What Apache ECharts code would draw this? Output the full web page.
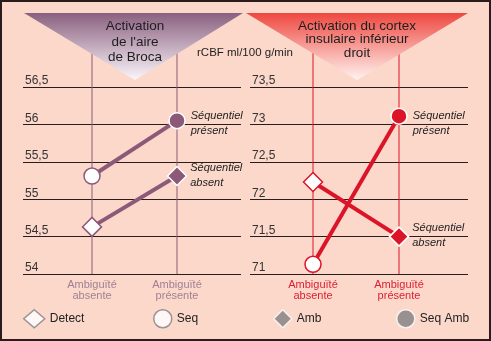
<!DOCTYPE html>
<html><head><meta charset="utf-8">
<script src="https://cdn.jsdelivr.net/npm/echarts@6/dist/echarts.min.js"></script>
<style>html,body{margin:0;padding:0;background:#fcd8cb}#c{width:491px;height:341px}</style>
</head><body><div id="c"></div>
<script>
// ---- data ----
const categories = ['Ambiguïté\nabsente', 'Ambiguïté\nprésente'];
const seriesNames = ['Séquentiel absent', 'Séquentiel présent'];
// Broca (left panel): [Ambiguïté absente, Ambiguïté présente]
const brocaAbsent = [54.63, 55.31];   // Detect -> Amb
const brocaPresent = [55.31, 56.05];  // Seq -> Seq Amb
// Insula (right panel)
const insulaAbsent = [72.23, 71.5];   // Detect -> Amb
const insulaPresent = [71.13, 73.11]; // Seq -> Seq Amb
const brocaRange = [54, 56.5];
const insulaRange = [71, 73.5];
const yStep = 0.5;
const legendNames = ['Detect', 'Seq', 'Amb', 'Seq Amb'];
const titles = ["Activation\nde l'aire\nde Broca", 'Activation du cortex\ninsulaire inférieur\ndroit'];
const unitText = 'rCBF ml/100 g/min';

// ---- style ----
const FONT = '"Liberation Sans", Arial, Helvetica, sans-serif';
const panelColor = ['#8c5a78', '#dc1428'];
const catLabelColor = ['#a08094', '#dc1e34'];
const gridBox = [{left: 23, width: 218}, {left: 250, width: 218}];
const catPx = [[92, 177], [313, 399]];
const GRID_TOP = 87, GRID_BOTTOM = 67;

function xRange(p) {
  const scale = catPx[p][1] - catPx[p][0];
  const min = -(catPx[p][0] - gridBox[p].left) / scale;
  return [min, min + gridBox[p].width / scale];
}

function makeSeries(p, idx, values) {
  const color = panelColor[p];
  const sym = idx === 0 ? 'diamond' : 'circle';
  const size = idx === 0 ? 19 : 16;
  const data = values.map((v, i) => {
    const filled = i === 1;
    const item = {
      value: [i, v], symbol: sym, symbolSize: size,
      itemStyle: filled ? {color: color, borderColor: '#fff', borderWidth: 1.5}
                        : {color: '#fff', borderColor: color, borderWidth: 1.5}
    };
    if (i === 1) {
      item.label = {
        show: true, position: 'right', distance: idx === 0 ? 3 : 5,
        offset: [0, (p === 1 && idx === 1) ? 7 : (idx === 1 ? 3 : -1)],
        formatter: seriesNames[idx].replace(' ', '\n'),
        fontStyle: 'italic', fontSize: 11, lineHeight: 15, color: '#222', fontFamily: FONT,
        align: 'left'
      };
    }
    return item;
  });
  return {
    type: 'line', name: seriesNames[idx], xAxisIndex: p, yAxisIndex: p,
    data: data, showAllSymbol: true, z: 3,
    lineStyle: {color: color, width: 4},
    itemStyle: {color: color},
    emphasis: {disabled: true}, animation: false, silent: true
  };
}

const ranges = [brocaRange, insulaRange];
const grids = gridBox.map(g => ({left: g.left, width: g.width, top: GRID_TOP, bottom: GRID_BOTTOM, containLabel: false}));
const xAxes = [0, 1].map(p => {
  const r = xRange(p);
  return {
    type: 'value', gridIndex: p, min: r[0], max: r[1],
    axisLine: {show: false}, axisTick: {show: false}, splitLine: {show: false},
    axisLabel: {
      customValues: [0, 1], formatter: v => categories[Math.round(v)] || '',
      color: catLabelColor[p], fontSize: 11, lineHeight: 11, margin: 5, fontFamily: FONT
    }
  };
});
const yAxes = [0, 1].map(p => ({
  type: 'value', gridIndex: p, min: ranges[p][0], max: ranges[p][1], interval: yStep,
  axisLine: {show: false}, axisTick: {show: false},
  splitLine: {show: true, lineStyle: {color: '#261e1e', width: 1}},
  axisLabel: {
    inside: true, margin: 2, verticalAlign: 'bottom',
    formatter: v => String(v).replace('.', ','), fontSize: 12, color: '#333', fontFamily: FONT
  }
}));

const legendStyles = [
  {icon: 'diamond', w: 21, itemStyle: {color: '#fff', borderColor: '#808080', borderWidth: 1.5}},
  {icon: 'circle', w: 18, itemStyle: {color: '#fff', borderColor: '#808080', borderWidth: 1.5}},
  {icon: 'diamond', w: 18, itemStyle: {color: '#808080', borderColor: '#fff', borderWidth: 1.5}},
  {icon: 'circle', w: 18, itemStyle: {color: '#808080', borderColor: '#fff', borderWidth: 1.5}}
];
const legendLeft = [23, 153, 273, 396];
const legends = legendNames.map((n, i) => ({
  show: true, left: legendLeft[i], top: 309, padding: 0, itemWidth: legendStyles[i].w, itemHeight: 18,
  itemGap: 0, selectedMode: false,
  textStyle: {fontSize: 12, color: '#222', fontFamily: FONT},
  data: [{name: n, icon: legendStyles[i].icon, itemStyle: legendStyles[i].itemStyle}]
}));
const dummySeries = legendNames.map(n => ({type: 'scatter', name: n, data: [], xAxisIndex: 0, yAxisIndex: 0}));

const chart = echarts.init(document.getElementById('c'), null, {renderer: 'canvas'});
const gradL = {type: 'linear', x: 0, y: 0, x2: 0, y2: 1, colorStops: [{offset: 0, color: '#8a6080'}, {offset: 1, color: '#fbf6fa'}]};
const gradR = {type: 'linear', x: 0, y: 0, x2: 0, y2: 1, colorStops: [{offset: 0, color: '#ee4840'}, {offset: 1, color: '#fff3f0'}]};

const baseGraphic = [
  {type: 'polygon', z: 10, shape: {points: [[24, 13], [243, 13], [135, 80]]}, style: {fill: gradL}},
  {type: 'polygon', z: 10, shape: {points: [[246, 13], [468, 13], [357, 80]]}, style: {fill: gradR}},
  {type: 'text', z: 11, x: 135, y: 19, style: {text: titles[0], align: 'center', verticalAlign: 'top', fontSize: 13.5, lineHeight: 15.5, fontFamily: FONT, fill: '#1e1e1e'}},
  {type: 'text', z: 11, x: 357, y: 19, style: {text: titles[1], align: 'center', verticalAlign: 'top', fontSize: 13.5, lineHeight: 13.8, fontFamily: FONT, fill: '#1e1e1e'}},
  {type: 'text', z: 11, x: 197, y: 53, style: {text: unitText, align: 'left', verticalAlign: 'middle', fontSize: 11.5, fontFamily: FONT, fill: '#1e1e1e'}},
  {type: 'rect', z: 100, shape: {x: 1, y: 1, width: 489, height: 339}, style: {fill: 'none', stroke: '#2a1c1c', lineWidth: 2}}
];

chart.setOption({
  backgroundColor: '#fcd8cb',
  animation: false,
  grid: grids, xAxis: xAxes, yAxis: yAxes, legend: legends,
  series: [
    makeSeries(0, 0, brocaAbsent), makeSeries(0, 1, brocaPresent),
    makeSeries(1, 0, insulaAbsent), makeSeries(1, 1, insulaPresent)
  ].concat(dummySeries),
  graphic: baseGraphic
});

// vertical category guide lines, positioned via the axes' own scales
const vlines = [];
[0, 1].forEach(p => {
  categories.forEach((c, i) => {
    const pt = chart.convertToPixel({gridIndex: p}, [i, ranges[p][0]]);
    vlines.push({type: 'line', z: 1, shape: {x1: pt[0], y1: 14, x2: pt[0], y2: pt[1]}, style: {stroke: panelColor[p], lineWidth: 1}});
  });
});
chart.setOption({graphic: baseGraphic.concat(vlines)}, {replaceMerge: ['graphic']});
</script></body></html>
